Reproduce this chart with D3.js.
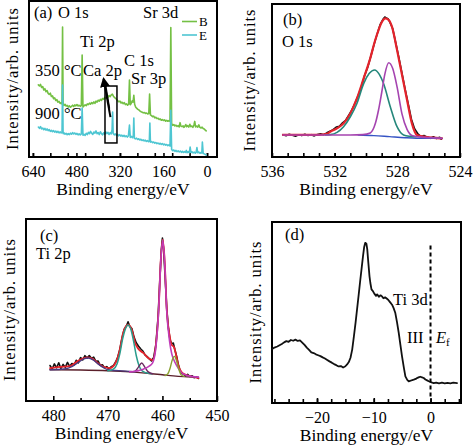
<!DOCTYPE html>
<html><head><meta charset="utf-8">
<script src="https://cdn.jsdelivr.net/npm/d3@7"></script>
<style>
html,body{margin:0;padding:0;background:#fff;}
</style></head>
<body><svg id="c" width="474" height="446"></svg>
<script>
// ---------- DATA ----------
// Panel (a): survey spectra, [binding energy eV, intensity a.u.]
const aSeriesNames = ["B", "E"];
const aTickLabels = [640, 480, 320, 160, 0];
const aB = [[620,46.2],[616,45.5],[612,46.5],[608,44.6],[604,45.2],[600,43.0],[596,43.8],[592,41.9],[588,42.6],[584,40.8],[580,40.1],[576,40.9],[572,38.8],[568,39.2],[564,37.4],[560,37.9],[556,36.2],[552,36.8],[548,35.2],[544,35.6],[540,34.3],[536,34.8],[533,34.0],[531,83.3],[529,34.2],[526,33.0],[522,33.8],[518,32.6],[514,33.1],[510,32.0],[506,32.8],[502,31.9],[498,32.5],[494,33.2],[490,32.4],[486,33.4],[482,32.8],[478,33.6],[474,32.7],[470,33.2],[466,32.5],[462,33.0],[459,65.4],[456,32.0],[452,32.8],[448,33.5],[444,32.9],[440,34.0],[436,33.6],[432,34.5],[428,33.9],[424,34.9],[420,34.2],[416,35.3],[412,34.4],[408,35.8],[404,35.2],[400,36.4],[396,35.8],[392,36.9],[388,36.3],[384,37.5],[380,37.0],[376,38.2],[372,37.6],[368,38.8],[364,38.3],[360,39.4],[356,38.7],[352,39.8],[348,40.3],[344,39.0],[340,38.2],[336,37.5],[332,36.9],[328,36.0],[324,35.4],[320,35.8],[316,34.6],[312,35.1],[308,34.2],[304,34.8],[300,33.6],[296,34.1],[292,33.2],[288,33.9],[285,49.4],[282,33.5],[278,34.6],[275,36.0],[272,35.2],[269,39.5],[266,33.8],[262,31.9],[258,31.2],[254,30.5],[250,30.1],[246,29.4],[242,29.0],[238,28.7],[234,28.3],[230,28.5],[226,27.9],[222,28.2],[218,27.6],[214,27.9],[211,40.4],[208,27.0],[204,26.5],[200,25.8],[196,26.2],[192,25.1],[188,25.5],[184,24.6],[180,24.9],[176,24.1],[172,24.4],[168,23.6],[164,24.0],[160,23.4],[156,23.8],[152,23.0],[148,23.5],[144,22.9],[140,23.3],[136,22.8],[133,83.0],[130,21.5],[126,20.3],[122,20.8],[118,19.9],[114,20.4],[110,19.6],[106,20.1],[102,19.3],[99,22.0],[96,19.8],[92,19.5],[88,20.0],[85,19.0],[82,19.6],[78,20.8],[75,19.4],[71,20.1],[67,19.2],[63,21.0],[60,19.5],[56,19.9],[52,19.0],[48,20.5],[45,22.8],[42,19.3],[38,19.8],[34,19.1],[30,20.6],[26,19.0],[22,18.6],[18,19.1],[14,18.2],[10,17.9],[6,17.2],[3,16.7]];
const aE = [[620,19.2],[616,18.4],[612,19.5],[608,18.0],[604,18.6],[600,17.5],[596,18.3],[592,17.2],[588,18.0],[584,16.9],[580,17.6],[576,16.4],[572,17.1],[568,16.2],[564,16.9],[560,16.0],[556,16.6],[552,15.7],[548,16.4],[544,15.5],[540,16.1],[536,15.4],[533,15.9],[531,46.2],[529,15.0],[526,15.5],[522,14.6],[518,15.2],[514,14.3],[510,15.0],[506,14.4],[502,15.3],[498,14.6],[494,15.6],[490,14.8],[486,15.4],[482,14.5],[478,15.1],[474,14.2],[470,14.9],[466,14.1],[462,14.8],[459,31.4],[456,13.9],[452,14.6],[448,13.8],[444,15.2],[440,14.4],[436,15.8],[432,15.0],[428,16.4],[424,15.2],[420,14.5],[416,16.0],[412,15.3],[408,16.7],[404,14.9],[400,15.6],[396,14.4],[392,16.2],[388,15.0],[384,14.2],[380,15.5],[376,14.6],[372,16.1],[368,15.0],[364,15.8],[360,14.4],[356,15.6],[352,14.8],[349,17.5],[347,28.8],[345,15.1],[341,14.2],[337,14.8],[333,13.9],[329,14.6],[325,13.6],[321,14.3],[317,13.4],[313,14.0],[309,13.2],[305,13.9],[301,13.0],[297,13.6],[293,12.8],[289,13.5],[285,20.5],[282,12.6],[278,13.2],[274,12.4],[271,13.8],[269,25.0],[267,12.0],[263,11.6],[259,12.1],[255,11.2],[251,11.7],[247,10.9],[243,11.4],[239,10.6],[235,11.0],[231,10.3],[227,10.8],[223,10.0],[219,10.5],[215,9.8],[212,10.3],[210,21.8],[208,9.5],[204,9.9],[200,9.2],[196,9.6],[192,8.9],[188,9.3],[184,8.6],[180,9.0],[176,8.3],[172,8.8],[168,8.1],[164,8.6],[160,7.8],[156,8.3],[152,7.6],[148,8.0],[144,7.3],[140,7.8],[136,7.0],[133,30.0],[130,4.8],[126,4.0],[122,4.5],[118,3.6],[114,4.2],[110,3.4],[106,3.9],[102,3.2],[98,3.8],[94,3.0],[90,3.6],[86,2.9],[82,3.5],[79,3.0],[76,4.2],[73,2.8],[69,3.4],[65,2.7],[62,6.4],[59,2.9],[55,3.3],[51,2.6],[47,3.1],[43,2.5],[40,3.0],[37,6.0],[34,2.7],[30,3.2],[26,2.4],[22,2.9],[19,2.6],[17,9.6],[14,2.3],[10,2.0],[6,1.6],[3,1.3]];

// Panel (b): O 1s
const bTickLabels = [536, 532, 528, 524];
const bData = [[535.3,14.6],[535.1,13.9],[534.9,14.8],[534.7,14.2],[534.5,13.6],[534.3,14.5],[534.1,14.0],[533.9,14.9],[533.7,14.1],[533.5,14.6],[533.3,13.8],[533.1,14.7],[532.9,15.2],[532.7,14.6],[532.5,15.8],[532.3,16.9],[532.1,17.9],[531.9,19.6],[531.7,20.1],[531.5,22.3],[531.3,24.0],[531.1,27.4],[530.9,30.8],[530.7,35.2],[530.5,40.1],[530.3,45.8],[530.1,53.0],[529.9,58.3],[529.7,65.5],[529.5,73.0],[529.3,80.0],[529.1,86.5],[528.9,90.2],[528.8,91.5],[528.7,90.8],[528.6,90.4],[528.5,88.6],[528.3,84.0],[528.1,74.5],[527.9,65.0],[527.7,54.6],[527.5,44.2],[527.3,34.5],[527.1,24.7],[526.9,18.5],[526.7,15.4],[526.5,13.3],[526.3,14.0],[526.1,13.0],[525.9,12.2],[525.7,13.2],[525.5,12.1],[525.3,12.9],[525.2,11.6]];
const bFit = [[535.3,14.4],[534,14.4],[533,14.5],[532.5,15.2],[532.28,16.5],[531.85,18.7],[531.43,22],[531.0,28.5],[530.58,38.3],[530.15,51.4],[529.73,64.5],[529.41,76.5],[529.2,83],[528.98,88.4],[528.77,90.6],[528.55,89.5],[528.34,85],[528.02,70],[527.7,53.6],[527.38,37.3],[527.07,22],[526.75,14.4],[526.32,13.3],[525.15,12.2]];
const bLattice = [[535.3,14.4],[531,14.4],[530.2,14.6],[529.73,15.7],[529.4,22],[529.2,30.7],[529.0,42],[528.8,54],[528.55,61.6],[528.3,58],[528.02,46],[527.7,28],[527.38,18],[527.07,14],[526.75,13.3],[525.15,12.2]];
const bOther = [[532.6,14.4],[532.28,14.6],[531.85,16.1],[531.43,19.8],[531.0,26.3],[530.58,35],[530.15,48],[529.8,54.5],[529.45,56.9],[529.15,54],[528.88,48],[528.45,32.9],[528.02,19.8],[527.6,14.4],[527.17,13.5],[526.8,13.2]];
const bBackground = [[530.5,14.4],[529.5,14.0],[528.5,13.3],[527.5,12.6],[526.8,12.3],[525.15,12.2]];

// Panel (c): Ti 2p
const cTickLabels = [480, 470, 460, 450];
const cData = [[480.6,19.5],[480.2,17.6],[479.8,20.4],[479.4,18.2],[479.0,21.0],[478.6,17.9],[478.2,20.1],[477.8,18.5],[477.4,21.2],[477.0,19.0],[476.6,20.6],[476.2,19.8],[475.8,22.4],[475.4,21.0],[475.0,23.8],[474.6,22.6],[474.2,24.9],[473.8,23.6],[473.4,25.0],[473.0,23.4],[472.6,24.1],[472.2,21.8],[471.8,22.0],[471.4,19.6],[471.0,19.9],[470.6,18.2],[470.2,18.9],[469.8,17.6],[469.4,18.8],[469.0,19.4],[468.6,21.3],[468.2,24.0],[467.8,28.5],[467.4,34.6],[467.0,39.5],[466.6,41.2],[466.3,43.5],[466.0,41.0],[465.6,39.8],[465.2,35.1],[464.8,32.0],[464.4,30.2],[464.0,28.7],[463.6,27.5],[463.2,25.3],[462.8,24.4],[462.4,23.1],[462.0,22.0],[461.6,24.0],[461.2,31.0],[460.8,46.0],[460.5,65.0],[460.2,83.0],[460.0,89.5],[459.8,84.0],[459.5,68.0],[459.2,50.5],[458.9,40.0],[458.6,33.5],[458.3,31.5],[458.0,31.8],[457.7,28.0],[457.4,24.6],[457.1,20.2],[456.8,17.0],[456.5,15.2],[456.2,14.9],[455.8,14.0],[455.4,14.6],[455.0,13.5],[454.6,13.9],[454.2,12.8],[453.8,13.3],[453.4,12.4]];
const cFit = [[480.6,18.1],[478.8,18.7],[476.9,19.2],[475.7,21.6],[474.5,23.5],[473.6,24],[472.7,23],[471.8,20.7],[470.8,18.8],[469.6,18.1],[468.7,20.3],[467.9,26.9],[467.2,37.4],[466.3,41.9],[465.6,39],[465.0,31.9],[464.4,28.6],[463.5,26.4],[462.6,23.6],[461.8,22.5],[461.2,30.8],[460.7,50],[460.3,77.5],[459.95,88.6],[459.6,77.5],[459.2,50],[458.7,36.3],[458.3,30.8],[457.9,29.7],[457.5,25.3],[457.1,19.8],[456.5,15.9],[455.6,14.3],[454.3,13.2],[453.4,12.6]];
const cBackground = [[480.6,17.2],[475,17.0],[470,16.6],[466,16.0],[462,15.0],[460,14.4],[458,13.8],[456,13.4],[453.4,13.1]];
const cSatellite = [[480.6,17.2],[478,17.6],[476.5,19.0],[475.5,21.0],[474.5,23.0],[473.6,23.6],[472.7,22.6],[471.8,20.4],[470.8,18.3],[469.8,17.0],[468,16.7],[465,16.0]];
const cTi4Half = [[470,16.6],[469,17.5],[468.3,20.5],[467.8,26],[467.3,34],[466.8,39.5],[466.3,41.8],[465.8,39.5],[465.3,33],[464.8,25],[464.3,19.5],[463.8,16.8],[463,15.5],[462,15.0]];
const cTi3Half = [[466,16.0],[465,16.4],[464.4,18.6],[463.8,20.9],[463.2,18.5],[462.6,16.0],[461.8,15.0]];
const cTi4Main = [[466,16.0],[463.5,17.5],[462.5,19],[461.8,21],[461.2,29.5],[460.7,49.5],[460.3,77],[459.95,88.3],[459.6,77],[459.2,49],[458.7,33],[458.3,26],[457.9,22.5],[457.3,19],[456.5,15.5],[455.6,14.2],[454.5,13.4],[453.4,13.1]];
const cTi3Main = [[459.5,14],[459,15.0],[458.6,18],[458.2,22.5],[457.8,24.5],[457.4,22],[457.0,17.5],[456.6,14.5],[456,13.5]];

// Panel (d): valence band
const dTickLabels = [-20, -10, 0];
const dData = [[-27.9,29.8],[-27.5,30.6],[-27.0,31.2],[-26.6,31.9],[-26.2,32.6],[-25.8,33.5],[-25.4,34.2],[-25.0,33.8],[-24.6,34.8],[-24.2,34.4],[-23.8,35.0],[-23.4,34.3],[-23.0,34.6],[-22.6,33.4],[-22.2,32.1],[-21.8,30.6],[-21.4,29.4],[-21.0,28.0],[-20.6,27.6],[-20.2,26.9],[-19.8,26.4],[-19.4,25.9],[-19.0,25.2],[-18.6,24.6],[-18.2,23.8],[-17.8,23.0],[-17.4,22.3],[-17.0,21.5],[-16.6,20.9],[-16.2,20.2],[-15.8,20.4],[-15.4,19.6],[-15.0,20.3],[-14.7,21.3],[-14.4,22.6],[-14.1,25.0],[-13.8,29.5],[-13.5,36.8],[-13.2,44.5],[-12.95,51.6],[-12.65,60.0],[-12.37,68.1],[-12.1,75.5],[-11.9,81.0],[-11.7,86.0],[-11.5,88.5],[-11.3,88.0],[-11.15,85.0],[-10.95,77.3],[-10.75,70.0],[-10.6,66.3],[-10.4,62.8],[-10.13,61.7],[-9.9,60.4],[-9.6,59.2],[-9.4,60.0],[-9.1,58.7],[-8.8,59.5],[-8.55,58.9],[-8.3,57.9],[-8.0,58.4],[-7.67,57.6],[-7.4,56.8],[-7.1,55.6],[-6.78,54.3],[-6.5,52.4],[-6.2,49.7],[-5.9,44.5],[-5.6,38.7],[-5.3,32.0],[-5.02,25.8],[-4.7,19.5],[-4.43,14.7],[-4.1,12.8],[-3.84,12.0],[-3.5,12.3],[-3.2,12.7],[-2.96,12.9],[-2.6,13.3],[-2.3,13.9],[-2.0,14.3],[-1.8,14.5],[-1.5,14.2],[-1.2,13.8],[-0.9,13.0],[-0.6,12.5],[-0.32,12.0],[0.0,11.6],[0.3,11.2],[0.56,11.0],[1.0,11.3],[1.5,10.9],[2.0,11.2],[2.5,10.8],[3.0,11.1],[3.5,10.9],[4.0,11.2],[4.67,11.0]];
const dFermi = [[0, 87], [0, 2]];

// ---------- DRAW ----------
const FONT = "'Liberation Serif','Times New Roman','DejaVu Serif',serif";
const svg = d3.select("#c");
svg.append("rect").attr("width",474).attr("height",446).attr("fill","#fff");

function panel(o){
  const x = d3.scaleLinear().domain(o.xd).range([o.l,o.r]);
  const y = d3.scaleLinear().domain([0,100]).range([o.b,o.t]);
  const g = svg.append("g");
  g.append("g").attr("transform",`translate(0,${o.b})`)
    .call(d3.axisBottom(x).tickValues(o.minor).tickSize(-o.minLen).tickFormat(""))
    .call(s=>{s.select(".domain").remove(); s.selectAll("line").attr("stroke","#000").attr("stroke-width",1.6);});
  g.append("g").attr("transform",`translate(0,${o.b})`)
    .call(d3.axisBottom(x).tickValues(o.labels).tickSize(-o.majLen).tickFormat(d=>d<0?"\u2212"+Math.abs(d):d))
    .call(s=>{s.select(".domain").remove(); s.selectAll("line").attr("stroke","#000").attr("stroke-width",1.6);
      s.selectAll("text").attr("y",20).attr("dy",0).attr("fill","#000")
        .style("font-family",FONT).style("font-size","16px");});
  g.append("rect").attr("x",o.l).attr("y",o.t).attr("width",o.r-o.l).attr("height",o.b-o.t)
    .attr("fill","none").attr("stroke","#000").attr("stroke-width",2);
  g.append("text").attr("x",(o.l+o.r)/2).attr("y",o.b+38).attr("text-anchor","middle")
    .style("font-family",FONT).style("font-size","17.5px").text("Binding energy/eV");
  g.append("text").attr("transform",`translate(${o.l-o.yl},${(o.t+o.b)/2}) rotate(-90)`)
    .attr("text-anchor","middle").attr("textLength",142).attr("lengthAdjust","spacing")
    .style("font-family",FONT).style("font-size","16.5px").text("Intensity/arb. units");
  const plot = g.append("g");
  return {x,y,g:plot};
}
function line(p, data, color, w, curve){
  const l = d3.line().x(d=>p.x(d[0])).y(d=>p.y(d[1])).curve(curve||d3.curveLinear);
  p.g.append("path").datum(data).attr("d",l).attr("fill","none").attr("stroke",color)
    .attr("stroke-width",w).attr("stroke-linejoin","round").attr("stroke-linecap","round");
}
function txt(x,y,s,size){
  return svg.append("text").attr("x",x).attr("y",y)
    .style("font-family",FONT).style("font-size",(size||16.5)+"px").text(s);
}

// Panel (a)
const pa = panel({l:29,r:217,t:1,b:157,xd:[654.4,-36.8],yl:11,
  minor:d3.range(0,641,64), minLen:4, labels:aTickLabels, majLen:4});
line(pa, aB, "#74c044", 1.6);
line(pa, aE, "#4ec6d2", 1.6);
pa.g.append("rect").attr("x",pa.x(375)).attr("y",pa.y(45.5))
  .attr("width",pa.x(331)-pa.x(375)).attr("height",pa.y(9)-pa.y(45.5))
  .attr("fill","none").attr("stroke","#000").attr("stroke-width",1.5);
svg.append("defs").append("marker").attr("id","ah").attr("viewBox","0 0 10 10").attr("refX",8).attr("refY",5)
  .attr("markerWidth",5).attr("markerHeight",5).attr("orient","auto")
  .append("path").attr("d","M0,0 L10,5 L0,10 z").attr("fill","#000");
pa.g.append("line").attr("x1",pa.x(355)).attr("y1",pa.y(25.6)).attr("x2",pa.x(380)).attr("y2",pa.y(50))
  .attr("stroke","#000").attr("stroke-width",2).attr("marker-end","url(#ah)");
pa.g.append("line").attr("x1",pa.x(358)).attr("y1",pa.y(31)).attr("x2",pa.x(374)).attr("y2",pa.y(48))
  .attr("stroke","#000").attr("stroke-width",1.2);
pa.g.append("line").attr("x1",182).attr("x2",197).attr("y1",21.5).attr("y2",21.5).attr("stroke","#74c044").attr("stroke-width",1.6);
pa.g.append("line").attr("x1",182).attr("x2",197).attr("y1",35).attr("y2",35).attr("stroke","#4ec6d2").attr("stroke-width",1.6);
txt(199,26,aSeriesNames[0],13);
txt(199,40,aSeriesNames[1],13);
txt(34,18,"(a)");
txt(58,18,"O 1s");
txt(80,47,"Ti 2p");
txt(143,18,"Sr 3d");
txt(35,76,"350 °C");
txt(83,76,"Ca 2p");
txt(124,66,"C 1s");
txt(131,84,"Sr 3p");
txt(35,119,"900 °C");

// Panel (b)
const pb = panel({l:272,r:460,t:4,b:157,xd:[536,524],yl:17,
  minor:d3.range(525,536,1), minLen:4, labels:bTickLabels, majLen:4});
line(pb, bData, "#111", 1.6);
line(pb, bFit, "#e4232b", 2.2, d3.curveMonotoneX);
line(pb, bBackground, "#3553c4", 1.4, d3.curveMonotoneX);
line(pb, bOther, "#25877b", 1.6, d3.curveMonotoneX);
line(pb, bLattice, "#a544b0", 1.6, d3.curveMonotoneX);
txt(283,25,"(b)");
txt(282,47,"O 1s");

// Panel (c)
const pc = panel({l:26,r:217,t:219,b:401,xd:[485,450],yl:11,
  minor:[475,465,455], minLen:3, labels:cTickLabels, majLen:5});
line(pc, cData, "#111", 1.6);
line(pc, cFit, "#e4232b", 1.8, d3.curveMonotoneX);
line(pc, cBackground, "#5a1f2a", 1.4, d3.curveMonotoneX);
line(pc, cSatellite, "#4a3a80", 1.4, d3.curveMonotoneX);
line(pc, cTi4Half, "#2a9c8c", 1.5, d3.curveMonotoneX);
line(pc, cTi3Half, "#6a2a60", 1.4, d3.curveMonotoneX);
line(pc, cTi4Main, "#c03cb8", 1.6, d3.curveMonotoneX);
line(pc, cTi3Main, "#8aa030", 1.4, d3.curveMonotoneX);
txt(40,241,"(c)");
txt(36,259,"Ti 2p");

// Panel (d)
const pd = panel({l:272,r:461,t:222,b:403,xd:[-27.93,5.37],yl:11,
  minor:d3.range(-27.5,5.1,2.5), minLen:4, labels:dTickLabels, majLen:5});
line(pd, dData, "#111", 1.8);
pd.g.append("path").datum(dFermi).attr("d",d3.line().x(d=>pd.x(d[0])).y(d=>pd.y(d[1])))
  .attr("stroke","#000").attr("stroke-width",2).attr("stroke-dasharray","4,3").attr("fill","none");
txt(285,240,"(d)");
txt(393,305,"Ti 3d");
txt(407,343,"III");
const ef = svg.append("text").attr("x",436).attr("y",343).style("font-family",FONT).style("font-size","16.5px");
ef.append("tspan").attr("font-style","italic").text("E");
ef.append("tspan").style("font-size","11px").attr("dy",3).text("f");
</script></body></html>
